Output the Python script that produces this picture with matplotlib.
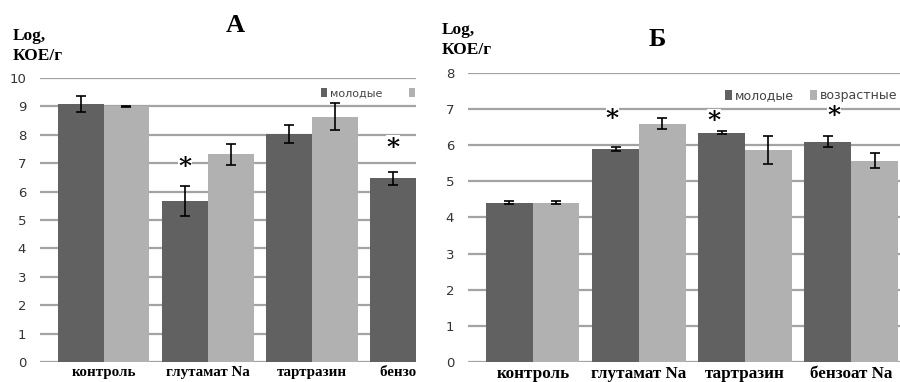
import matplotlib.pyplot as plt
from matplotlib.transforms import Bbox, TransformedBbox
import numpy as np

# categories and series (log CFU/g)
categories = ['контроль', 'глутамат Na', 'тартразин', 'бензоат Na']
series_names = ['молодые', 'возрастные']

# panel A (fourth category cut off in the original, second bar not visible)
a_young = [9.1, 5.68, 8.02, 6.47]
a_young_err = [0.28, 0.53, 0.32, 0.22]
a_old = [9.0, 7.32, 8.64, np.nan]
a_old_err = [0.02, 0.37, 0.48, np.nan]
a_stars = [1, 3]  # categories marked with *

# panel B
b_young = [4.41, 5.89, 6.34, 6.09]
b_young_err = [0.03, 0.06, 0.04, 0.15]
b_old = [4.41, 6.59, 5.86, 5.57]
b_old_err = [0.03, 0.16, 0.39, 0.20]
b_stars = [1, 2, 3]

DARK = '#616161'
LIGHT = '#b1b1b1'
GRID = '#a3a3a3'
BW = 0.44


def draw_panel(ax, young, young_err, old, old_err, stars, ymax, xlim,
               star_dx, star_y, leg_pos, xfs, lfs, colsp):
    x = np.arange(len(categories))
    ax.bar(x - BW / 2, young, BW, color=DARK, label=series_names[0], zorder=2)
    ax.bar(x + BW / 2, old, BW, color=LIGHT, label=series_names[1], zorder=2)
    ax.errorbar(x - BW / 2, young, yerr=young_err, fmt='none', ecolor='black',
                elinewidth=1.2, capsize=3.5, capthick=1.2, zorder=3)
    ax.errorbar(x + BW / 2, old, yerr=old_err, fmt='none', ecolor='black',
                elinewidth=1.2, capsize=3.5, capthick=1.2, zorder=3)

    # stars sit on a white box that hides the gridline, but below the bars
    for i, s in enumerate(stars):
        ax.text(s - BW / 2 + star_dx[i], star_y[i], '*', ha='center', va='center',
                fontsize=18, fontweight='bold', family='DejaVu Serif',
                bbox=dict(facecolor='white', edgecolor='none', pad=0.2), zorder=1.5)

    ax.set_ylim(0, ymax)
    ax.set_xlim(*xlim)
    ax.set_yticks(range(0, ymax + 1))
    ax.yaxis.grid(True, color=GRID, linewidth=1.6, zorder=0)
    ax.set_axisbelow(True)
    for sp in ax.spines.values():
        sp.set_visible(False)
    ax.tick_params(axis='y', length=0, pad=10, labelsize=9.5, labelcolor='#333333')
    ax.tick_params(axis='x', length=0, pad=3)
    ax.set_xticks(x)
    ax.set_xticklabels(categories, fontsize=xfs, fontweight='bold',
                       family='Liberation Serif')

    leg = ax.legend(loc='center left', bbox_to_anchor=leg_pos, ncol=2, frameon=True,
                    fontsize=lfs, handlelength=0.55, handleheight=0.9,
                    handletextpad=0.25, columnspacing=colsp, borderpad=0.2)
    leg.get_frame().set_edgecolor('none')
    leg.get_frame().set_facecolor('white')
    leg.get_frame().set_alpha(1)
    for t in leg.get_texts():
        t.set_color('#444444')
    leg.set_zorder(5)
    return leg


fig = plt.figure(figsize=(9, 3.82), dpi=100)

ax1 = fig.add_axes([40 / 900, 20 / 382, 376 / 900, 284 / 382])
leg1 = draw_panel(ax1, a_young, a_young_err, a_old, a_old_err, a_stars, 10,
                  (-0.61, 2.89), star_dx=[0.0, 0.0], star_y=[6.85, 7.55],
                  leg_pos=(0.726, 0.947), xfs=10.8, lfs=8, colsp=2.4)

ax2 = fig.add_axes([468 / 900, 20 / 382, 432 / 900, 289.3 / 382])
draw_panel(ax2, b_young, b_young_err, b_old, b_old_err, b_stars, 8,
           (-0.61, 3.46), star_dx=[-0.03, -0.07, 0.06], star_y=[6.72, 6.66, 6.8],
           leg_pos=(0.574, 0.92), xfs=12.3, lfs=9.0, colsp=1.3)

# panel A is cut off on the right in the original picture
clip = TransformedBbox(Bbox.from_extents(0, 0, 416 / 900, 1), fig.transFigure)
cut = list(ax1.get_xticklabels()) + list(leg1.get_texts()) + list(leg1.legend_handles)
cut.append(leg1.get_frame())
for a in cut:
    a.set_clip_box(clip)
    a.set_clip_on(True)

# titles and axis captions
fig.text(235 / 900, 1 - 25 / 382, 'А', ha='center', va='center', fontsize=19,
         fontweight='bold', family='Liberation Serif')
fig.text(657 / 900, 1 - 40 / 382, 'Б', ha='center', va='center', fontsize=19,
         fontweight='bold', family='Liberation Serif')
fig.text(13 / 900, 1 - 46 / 382, 'Log,\nКОЕ/г', ha='left', va='center',
         fontsize=12.5, fontweight='bold', family='Liberation Serif', linespacing=1.25)
fig.text(442 / 900, 1 - 40 / 382, 'Log,\nКОЕ/г', ha='left', va='center',
         fontsize=12.5, fontweight='bold', family='Liberation Serif', linespacing=1.25)

fig.savefig('out.png', dpi=100)
